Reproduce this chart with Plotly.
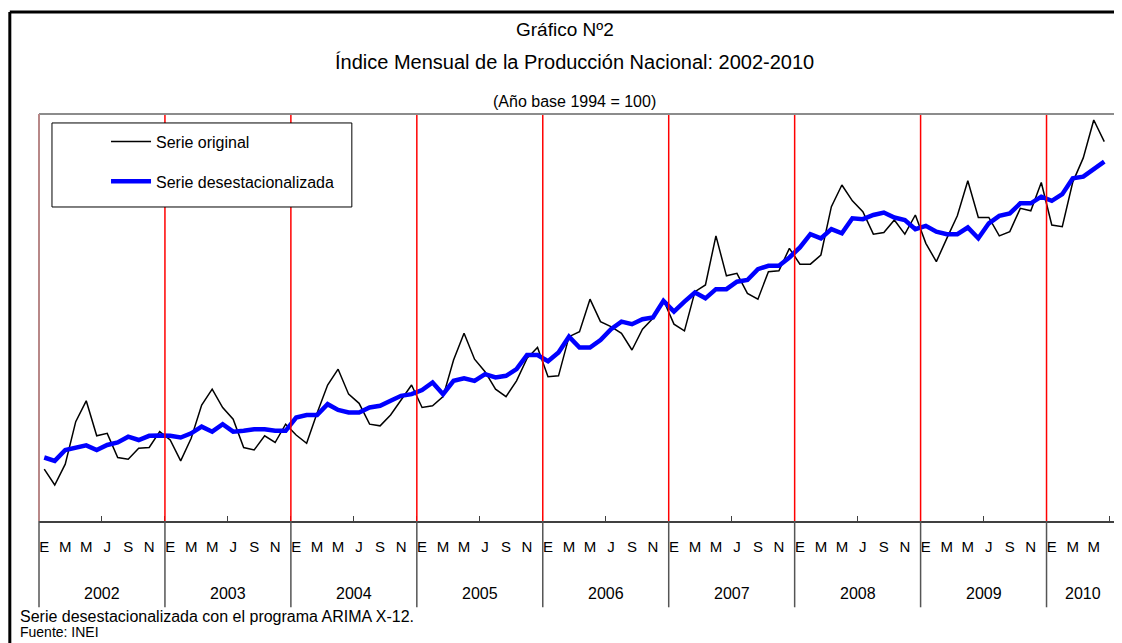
"""Índice Mensual de la Producción Nacional 2002-2010 (serie original y desestacionalizada)."""
import plotly.graph_objects as go

# --- data ---------------------------------------------------------------
years = ["2002", "2003", "2004", "2005", "2006", "2007", "2008", "2009", "2010"]
month_letters = ["E", "F", "M", "A", "M", "J", "J", "A", "S", "O", "N", "D"]

serie_original = [
    124.2, 120.4, 125.4, 135.6, 140.6, 132.2, 132.8, 127.0, 126.6, 129.2, 129.4, 133.2,  # 2002
    131.2, 126.2, 131.6, 139.6, 143.4, 139.0, 136.2, 129.4, 128.8, 132.2, 130.6, 135.0,  # 2003
    132.4, 130.4, 137.7, 144.4, 148.2, 142.2, 140.0, 135.0, 134.6, 137.2, 140.8, 144.4,  # 2004
    139.0, 139.4, 141.6, 150.4, 156.8, 150.6, 147.6, 143.4, 141.6, 145.4, 150.8, 153.4,  # 2005
    146.4, 146.6, 156.0, 157.2, 165.0, 159.6, 158.4, 156.8, 152.8, 157.8, 160.4, 164.8,  # 2006
    159.0, 157.4, 166.8, 168.4, 180.2, 170.6, 171.2, 166.4, 165.0, 171.6, 171.8, 177.2,  # 2007
    173.4, 173.4, 175.6, 187.2, 192.4, 188.6, 186.0, 180.6, 181.0, 184.0, 180.6, 185.2,  # 2008
    178.4, 174.0, 179.6, 185.0, 193.4, 184.6, 184.6, 180.2, 181.2, 186.8, 186.2, 193.0,  # 2009
    182.8, 182.4, 193.1, 198.9, 208.0, 202.8,                                            # 2010
]

serie_desest = [
    127.0, 126.2, 128.8, 129.4, 129.9, 128.8, 130.0, 130.6, 132.0, 131.2, 132.2, 132.3,  # 2002
    132.2, 131.8, 132.8, 134.4, 133.2, 135.0, 133.2, 133.4, 133.8, 133.8, 133.4, 133.4,  # 2003
    136.6, 137.2, 137.2, 139.8, 138.4, 137.8, 137.8, 139.0, 139.4, 140.6, 141.8, 142.2,  # 2004
    143.2, 145.0, 142.2, 145.4, 146.0, 145.4, 147.0, 146.2, 146.6, 148.2, 151.6, 151.6,  # 2005
    150.1, 152.2, 156.0, 153.4, 153.4, 155.2, 157.8, 159.6, 159.0, 160.2, 160.6, 164.6,  # 2006
    162.0, 164.4, 166.6, 165.2, 167.4, 167.4, 169.2, 169.6, 172.2, 173.0, 173.0, 175.0,  # 2007
    177.4, 180.6, 179.6, 181.8, 180.8, 184.4, 184.2, 185.2, 185.8, 184.6, 184.0, 181.8,  # 2008
    182.6, 181.2, 180.6, 180.6, 182.2, 179.6, 183.2, 185.0, 185.6, 188.0, 188.0, 189.6,  # 2009
    188.6, 190.2, 194.0, 194.4, 196.2, 198.0,                                            # 2010
]

n_cat = 103  # Ene 2002 .. Jul 2010 on the category axis
x = list(range(len(serie_original)))

FONT = "Liberation Sans, Arial, sans-serif"

# tick labels: every other month (E M M J S N)
tickvals = [i for i in range(len(serie_original)) if i % 2 == 0]
ticktext = [month_letters[i % 12] for i in tickvals]

fig = go.Figure()
fig.add_trace(go.Scatter(
    x=x, y=serie_original, mode="lines", name="Serie original",
    line=dict(color="black", width=1.5), legendgroup="a",
))
fig.add_trace(go.Scatter(
    x=x, y=serie_desest, mode="lines", name="Serie desestacionalizada",
    line=dict(color="#0000ff", width=4.5), legendgroup="b",
))

shapes = []
# red year separators inside the plot
for k in range(1, len(years)):
    shapes.append(dict(type="line", xref="x", yref="paper", x0=12 * k - 0.5, x1=12 * k - 0.5,
                       y0=0, y1=1, line=dict(color="#ff0000", width=1.5)))
# plot frame
shapes.append(dict(type="line", xref="paper", yref="paper", x0=0, x1=1, y0=1, y1=1,
                   line=dict(color="#8c8c8c", width=2)))
shapes.append(dict(type="line", xref="paper", yref="paper", x0=0.9955, x1=0.9955, y0=0, y1=1,
                   line=dict(color="#8c8c8c", width=2)))
shapes.append(dict(type="line", xref="paper", yref="paper", x0=0, x1=0, y0=0, y1=1,
                   line=dict(color="#b88888", width=2)))
# year dividers below the axis
for k in range(len(years)):
    xp = 12 * k / n_cat
    shapes.append(dict(type="line", xref="paper", yref="paper", x0=xp, x1=xp, y0=0, y1=-0.212,
                       line=dict(color="#555555", width=1.5)))
shapes.append(dict(type="line", xref="paper", yref="paper", x0=1, x1=1, y0=0, y1=-0.212,
                   line=dict(color="#555555", width=1.5)))
# legend box
shapes.append(dict(type="rect", xref="paper", yref="paper", x0=0.012, x1=0.2894, y0=0.7715, y1=0.978,
                   line=dict(color="black", width=1), fillcolor="white", layer="above"))
# outer frame of the figure (left and top edges only are visible)
shapes.append(dict(type="line", xref="paper", yref="paper", x0=-0.027, x1=-0.027, y0=-0.5, y1=1.2506,
                   line=dict(color="black", width=3)))
shapes.append(dict(type="line", xref="paper", yref="paper", x0=-0.027, x1=1.05, y0=1.2506, y1=1.2506,
                   line=dict(color="black", width=3)))

annotations = [
    dict(text="Gráfico Nº2", x=0.487, y=1.2064, yanchor="middle", xref="paper", yref="paper",
         showarrow=False, font=dict(size=19, family=FONT, color="black")),
    dict(text="Índice Mensual de la Producción Nacional: 2002-2010", x=0.495, y=1.1278,
         yanchor="middle", xref="paper", yref="paper", showarrow=False,
         font=dict(size=20, family=FONT, color="black")),
    dict(text="(Año base 1994 = 100)", x=0.495, y=1.0319, yanchor="middle", xref="paper",
         yref="paper", showarrow=False, font=dict(size=16, family=FONT, color="black")),
    dict(text="Serie desestacionalizada con el programa ARIMA X-12.", x=-0.0194, y=0, yshift=-95,
         yanchor="middle", xref="paper", yref="paper", xanchor="left", showarrow=False,
         font=dict(size=16, family=FONT, color="black")),
    dict(text="Fuente: INEI", x=-0.0194, y=0, yshift=-111, yanchor="middle", xref="paper",
         yref="paper", xanchor="left", showarrow=False, font=dict(size=14, family=FONT, color="black")),
]
for k, yr in enumerate(years):
    start = 12 * k - 0.5
    end = min(12 * k + 11.5, n_cat - 0.5)
    annotations.append(dict(text=yr, x=(start + end) / 2, xref="x", y=0, yref="paper", yshift=-72,
                            yanchor="middle", showarrow=False,
                            font=dict(size=16, family=FONT, color="black")))

# the page adds an 8px body margin, so the layout is shifted up/left by 8px
fig.update_layout(
    width=1114, height=635,
    margin=dict(l=31, r=1.5, t=106, b=122),
    paper_bgcolor="white", plot_bgcolor="white",
    showlegend=True,
    legend=dict(x=0.062, y=0.974, xanchor="left", yanchor="top", bgcolor="rgba(0,0,0,0)",
                borderwidth=0, tracegroupgap=16, itemwidth=40,
                font=dict(size=16, family=FONT, color="black")),
    shapes=shapes,
    annotations=annotations,
    xaxis=dict(range=[-0.5, n_cat - 0.5], showgrid=False, zeroline=False,
               showline=True, linecolor="#404040", linewidth=2,
               tickmode="array", tickvals=tickvals, ticktext=ticktext, ticks="",
               ticklabelstandoff=11,
               tickfont=dict(size=15, family=FONT, color="black"),
               minor=dict(tickmode="array", tickvals=[6 * k - 0.5 for k in range(1, 18)],
                          ticks="inside", ticklen=5, tickcolor="#404040", tickwidth=1)),
    yaxis=dict(range=[111.76, 209.44], visible=False),
)

fig.write_html("out.html")
